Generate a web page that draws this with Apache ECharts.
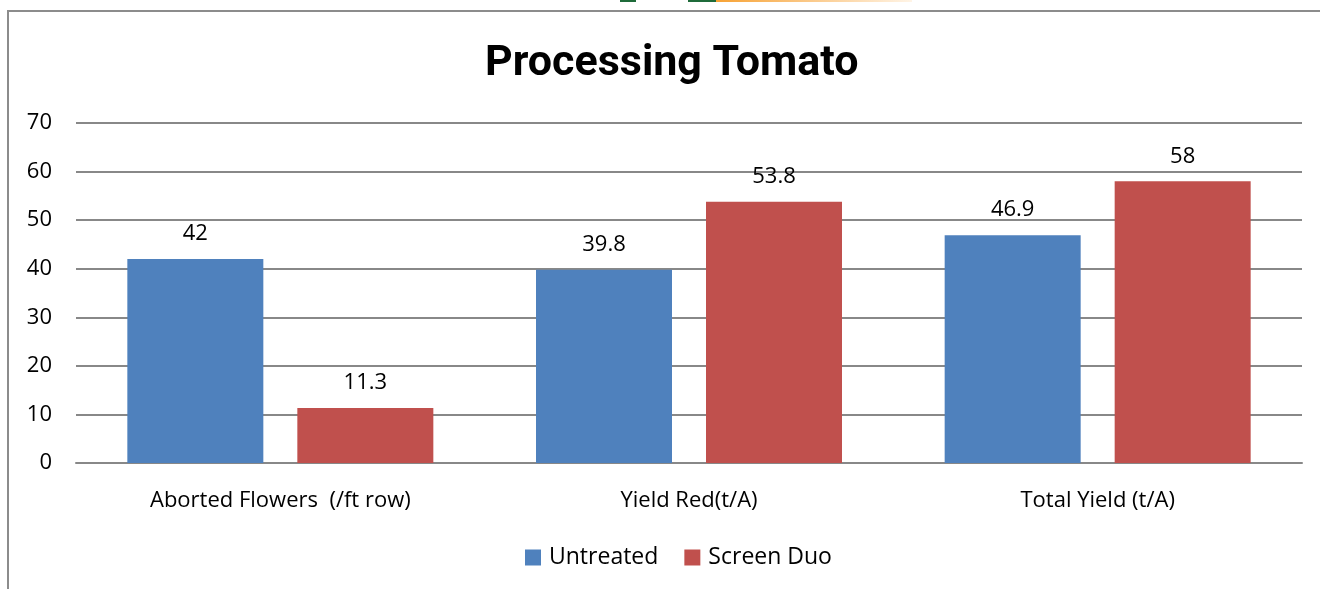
<!DOCTYPE html>
<html>
<head>
<meta charset="utf-8">
<script src="https://cdn.jsdelivr.net/npm/echarts@6/dist/echarts.min.js"></script>
<style>
  html, body { margin: 0; padding: 0; background: #fff; }
  #main { width: 1320px; height: 589px; }
</style>
</head>
<body>
<div id="main"></div>
<script>
var categories = ['Aborted Flowers  (/ft row)', 'Yield Red(t/A)', 'Total Yield (t/A)'];
var untreated = [42, 39.8, 46.9];
var screenDuo = [11.3, 53.8, 58];

var chart = echarts.init(document.getElementById('main'));
var font = 'Open Sans, Noto Sans, sans-serif';

var option = {
  animation: false,
  backgroundColor: '#fff',
  title: {
    text: 'Processing Tomato',
    left: 480,
    top: 38,
    textStyle: { fontFamily: 'Roboto, sans-serif', fontSize: 43, fontWeight: 'bold', color: '#000' }
  },
  graphic: [
    {
      type: 'rect',
      shape: { x: 8, y: 11, width: 1330, height: 600 },
      style: { fill: 'none', stroke: '#8c8c8c', lineWidth: 2 },
      z: -1
    },
    // bit of the page logo peeking in above the frame
    {
      type: 'rect',
      shape: { x: 620, y: 0, width: 16, height: 2 },
      style: { fill: '#1f6b3a' }
    },
    {
      type: 'rect',
      shape: { x: 688, y: 0, width: 28, height: 2 },
      style: { fill: '#1f6b3a' }
    },
    {
      type: 'rect',
      shape: { x: 716, y: 0, width: 196, height: 2 },
      style: {
        fill: new echarts.graphic.LinearGradient(0, 0, 1, 0, [
          { offset: 0, color: '#f7a234' },
          { offset: 1, color: '#fff4e6' }
        ])
      }
    }
  ],
  legend: {
    bottom: 15,
    left: 520,
    itemWidth: 16,
    itemHeight: 16,
    itemGap: 26,
    icon: 'rect',
    textStyle: { fontFamily: font, fontSize: 23, color: '#000', padding: [0, 0, 0, 3] },
    data: ['Untreated', 'Screen Duo']
  },
  grid: { left: 76, right: 18, top: 123, bottom: 126 },
  xAxis: {
    type: 'category',
    data: categories,
    axisTick: { show: false },
    axisLine: { lineStyle: { color: '#888', width: 2 } },
    axisLabel: { fontFamily: font, fontSize: 22, color: '#000', margin: 27 }
  },
  yAxis: {
    type: 'value',
    min: 0,
    max: 70,
    interval: 10,
    axisLine: { show: false },
    axisTick: { show: false },
    splitLine: { lineStyle: { color: '#888', width: 2 } },
    axisLabel: { fontFamily: font, fontSize: 22, color: '#000', margin: 24 }
  },
  series: [
    {
      name: 'Untreated',
      type: 'bar',
      data: untreated,
      barWidth: 136,
      barGap: '25%',
      itemStyle: { color: '#4F81BD' },
      label: { show: true, position: 'top', distance: 14, fontFamily: font, fontSize: 22, color: '#000' }
    },
    {
      name: 'Screen Duo',
      type: 'bar',
      data: screenDuo,
      barWidth: 136,
      barGap: '25%',
      itemStyle: { color: '#C0504D' },
      label: { show: true, position: 'top', distance: 14, fontFamily: font, fontSize: 22, color: '#000' }
    }
  ]
};

chart.setOption(option);
</script>
</body>
</html>
